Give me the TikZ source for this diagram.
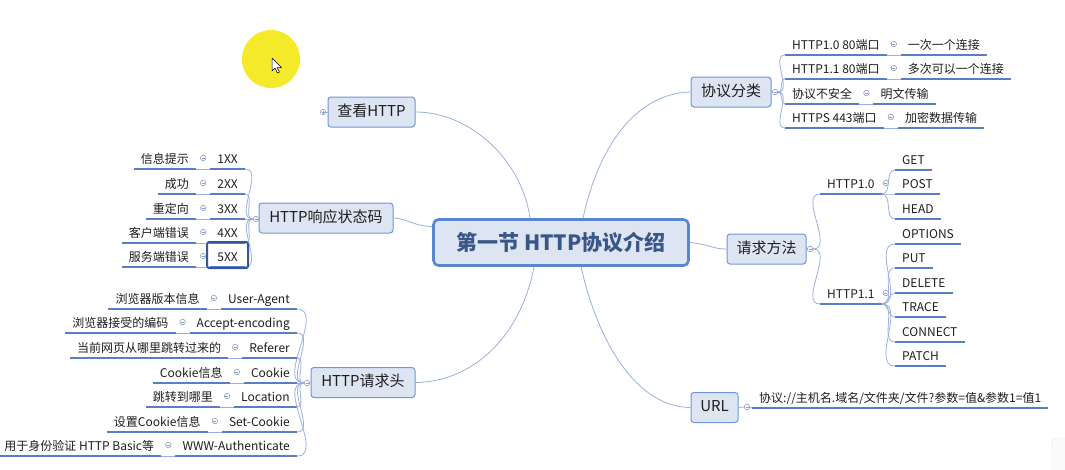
\documentclass[tikz,border=0pt]{standalone}
\usepackage{fontspec}
\setmainfont{Noto Sans CJK SC}
\usetikzlibrary{calc}
\definecolor{topicfill}{HTML}{DDE5F3}
\definecolor{topicdraw}{HTML}{7096D4}
\definecolor{centdraw}{HTML}{5A86CE}
\definecolor{centtext}{HTML}{3A5687}
\definecolor{branch}{HTML}{9AB0DE}
\definecolor{uline}{HTML}{5B7DC3}
\definecolor{txt}{HTML}{1E1E1E}
\definecolor{markc}{HTML}{8A9CC0}
\definecolor{hilite}{HTML}{F4EA2A}
\definecolor{selbox}{HTML}{33579E}
\tikzset{
 topic/.style={draw=topicdraw, fill=topicfill, rounded corners=3pt, line width=1pt,
   font=\fontsize{15}{18}\selectfont, text=txt, inner xsep=6pt, minimum height=30pt,
   text height=11pt, text depth=3pt},
 central/.style={draw=centdraw, fill=topicfill, rounded corners=5pt, line width=2.6pt,
   font=\fontsize{21}{25}\selectfont\bfseries, text=centtext, minimum width=255pt, minimum height=46pt},
 leaf/.style={font=\fontsize{12}{14}\selectfont, text=txt, inner xsep=7pt, inner ysep=3pt,
   text height=9pt, text depth=2.5pt},
 ul/.style={draw=uline, line width=1.4pt},
 br/.style={draw=branch, line width=0.8pt},
 mk/.style={circle, draw=markc, fill=white, line width=0.6pt, minimum size=5.5pt, inner sep=0pt,
   path picture={\draw[markc, line width=0.5pt] ([xshift=-1.5pt]path picture bounding box.center) -- ([xshift=1.5pt]path picture bounding box.center);}},
 mkplus/.style={mk, path picture={\draw[markc, line width=0.5pt] ([xshift=-1.5pt]path picture bounding box.center) -- ([xshift=1.5pt]path picture bounding box.center) ([yshift=-1.5pt]path picture bounding box.center) -- ([yshift=1.5pt]path picture bounding box.center);}},
}
\begin{document}
\begin{tikzpicture}[x=1pt,y=-1pt]
\useasboundingbox (0,0) rectangle (1065,469);
\fill[white] (0,0) rectangle (1065,469);
% screen artefacts
\fill[hilite] (271,59) circle (29);
\filldraw[fill=white, draw=black, line width=0.5pt, line join=round]
  (272,58) -- (272,71) -- (275,68) -- (277.5,73) -- (279.5,72) -- (277,67.5) -- (281.5,67.5) -- cycle;
\filldraw[draw=gray!25, fill=gray!4, rounded corners=4pt] (1052,438) rectangle (1085,490);

% central and main topics
\node[central] (c) at (561,242.5) {第一节 HTTP协议介绍};
\node[topic, minimum width=87pt] (view) at (371.5,112) {查看HTTP};
\node[topic, minimum width=134pt] (status) at (326,218) {HTTP响应状态码};
\node[topic, minimum width=104pt] (reqh) at (363,382.5) {HTTP请求头};
\node[topic, minimum width=80pt] (proto) at (731,92) {协议分类};
\node[topic, minimum width=79pt] (method) at (766.5,249) {请求方法};
\node[topic, minimum width=47pt] (url) at (714.5,407.5) {URL};

% topic markers
\node[mkplus] (vm) at (323,112) {};
\node[mk] (pm) at (775,92) {};
\node[mk] (sm) at (256,219) {};
\node[mk] (mm) at (810,249) {};
\node[mk] (rm) at (307,383) {};
\node[mk] (um) at (747,407) {};

% central connectors
\draw[br] ([xshift=-31pt]c.north) .. controls (522,160) and (470,112) .. (view.east);
\draw[br] ([xshift=22pt]c.north) .. controls (600,140) and (640,93) .. (proto.west);
\draw[br] ([yshift=16pt]c.west) .. controls (412,226) and (410,219) .. (status.east);
\draw[br] (c.east) .. controls (708,244) and (712,249) .. (method.west);
\draw[br] ([xshift=-27pt]c.south) .. controls (520,340) and (470,382) .. (reqh.east);
\draw[br] ([xshift=20pt]c.south) .. controls (600,350) and (640,407) .. (url.west);
\draw[br] (view.west) -- (vm.east);
\draw[br] (proto.east) -- (pm.west);
\draw[br] (status.west) -- (sm.east);
\draw[br] (method.east) -- (mm.west);
\draw[br] (reqh.west) -- (rm.east);
\draw[br] (url.east) -- (um.west);

% protocol classification rows
\foreach \n/\y/\a/\b in {p1/55/HTTP1.0 80端口/一次一个连接, p2/79/HTTP1.1 80端口/多次可以一个连接,
  p3/104/协议不安全/明文传输, p4/128/HTTPS 443端口/加密数据传输}{
  \node[leaf, anchor=south west] (\n) at (785,\y) {\a};
  \node[leaf, anchor=south west] (\n c) at ($(\n.south east)+(14,0)$) {\b};
  \node[mk] (\n m) at ($(\n.south east)!0.5!(\n c.south west)+(0,-11)$) {};
  \draw[ul] (\n.south west) -- (\n.south east);
  \draw[ul] (\n c.south west) -- (\n c.south east);
  \draw[br] (\n.south east) -- (\n c.south west);
  \draw[br] (pm.east) to[out=0,in=180] (\n.south west);
}

% request methods
\node[leaf, anchor=south west] (m0) at (820,194) {HTTP1.0};
\node[leaf, anchor=south west] (m1) at (820,304) {HTTP1.1};
\node[mk] (m0m) at ([shift={(4,-11)}]m0.south east) {};
\node[mk] (m1m) at ([shift={(4,-11)}]m1.south east) {};
\foreach \n in {m0,m1}{
  \draw[ul] (\n.south west) -- (\n.south east);
  \draw[br] (mm.east) to[out=0,in=180] (\n.south west);
}
\foreach \n/\y/\t in {get/170/GET, post/194/POST, head/219/HEAD}{
  \node[leaf, anchor=south west] (\n) at (895,\y) {\t};
  \draw[ul] (\n.south west) -- (\n.south east);
  \draw[br] (m0.south east) to[out=0,in=180] (\n.south west);
}
\foreach \n/\y/\t in {options/244/OPTIONS, put/268/PUT, delete/293/DELETE, trace/317/TRACE,
  connect/342/CONNECT, patch/366/PATCH}{
  \node[leaf, anchor=south west] (\n) at (895,\y) {\t};
  \draw[ul] (\n.south west) -- (\n.south east);
  \draw[br] (m1.south east) to[out=0,in=180] (\n.south west);
}

% URL
\node[leaf, anchor=south west] (u1) at (752,408) {协议://主机名.域名/文件夹/文件?参数=值\&参数1=值1};
\draw[ul] (u1.south west) -- (u1.south east);
\draw[br] (um.east) -- (u1.south west);

% status codes
\foreach \n/\y/\a/\b in {s1/169/1XX/信息提示, s2/194/2XX/成功, s3/219/3XX/重定向,
  s4/243/4XX/客户端错误, s5/267/5XX/服务端错误}{
  \node[leaf, anchor=south east] (\n) at (245,\y) {\a};
  \node[leaf, anchor=south east] (\n c) at ($(\n.south west)+(-14,0)$) {\b};
  \node[mk] (\n m) at ($(\n.south west)!0.5!(\n c.south east)+(0,-11)$) {};
  \draw[ul] (\n.south west) -- (\n.south east);
  \draw[ul] (\n c.south west) -- (\n c.south east);
  \draw[br] (\n c.south east) -- (\n.south west);
  \draw[br] (sm.west) to[out=180,in=0] (\n.south east);
}
\draw[selbox, line width=2pt, rounded corners=2pt] ([shift={(-3,1)}]s5.south west) rectangle ([shift={(3,-7)}]s5.north east);

% request headers
\foreach \n/\y/\a/\b in {h1/309/User-Agent/浏览器版本信息, h2/333/Accept-encoding/浏览器接受的编码,
  h3/358/Referer/当前网页从哪里跳转过来的, h4/383/Cookie/Cookie信息, h5/407/Location/跳转到哪里,
  h6/432/Set-Cookie/设置Cookie信息, h7/456/WWW-Authenticate/用于身份验证 HTTP Basic等}{
  \node[leaf, anchor=south east] (\n) at (297,\y) {\a};
  \node[leaf, anchor=south east] (\n c) at ($(\n.south west)+(-14,0)$) {\b};
  \node[mk] (\n m) at ($(\n.south west)!0.5!(\n c.south east)+(0,-11)$) {};
  \draw[ul] (\n.south west) -- (\n.south east);
  \draw[ul] (\n c.south west) -- (\n c.south east);
  \draw[br] (\n c.south east) -- (\n.south west);
  \draw[br] (rm.west) to[out=180,in=0] (\n.south east);
}
\end{tikzpicture}
\end{document}
